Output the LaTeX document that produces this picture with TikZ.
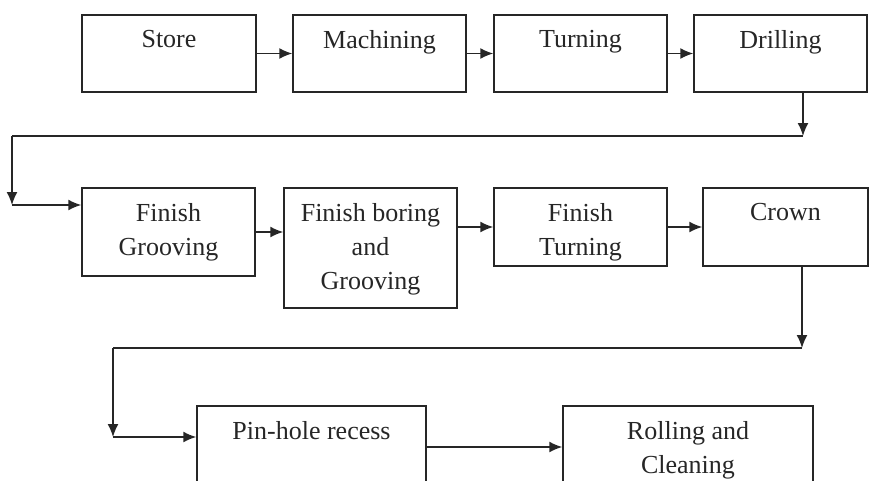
\documentclass[tikz,border=0pt]{standalone}
\usepackage{fontspec}
\setmainfont{Liberation Serif}
\usetikzlibrary{arrows.meta}
\tikzset{
  stage/.style={draw=black!85, line width=1.5pt, inner sep=0pt},
  stagetext/.style={anchor=north, yshift=-16pt, inner sep=0pt, align=center, text=black!85, font=\fontsize{26}{34}\selectfont},
  flow/.style={draw=black!85, line width=1.5pt, -{Latex[length=13pt,width=11pt]}},
  link/.style={draw=black!85, line width=1.5pt}
}
\begin{document}
\begin{tikzpicture}[x=1pt, y=-1pt]
\useasboundingbox (0,0) rectangle (870,480);
\clip (0,0) rectangle (870,480);
\node [stage, minimum width=174pt, minimum height=77pt, label={[stagetext]north:Store}] (store) at (169,53.5) {};
\node [stage, minimum width=173pt, minimum height=77pt, label={[stagetext]north:Machining}] (mach) at (379.5,53.5) {};
\node [stage, minimum width=173pt, minimum height=77pt, label={[stagetext]north:Turning}] (turn) at (580.5,53.5) {};
\node [stage, minimum width=173pt, minimum height=77pt, label={[stagetext]north:Drilling}] (drill) at (780.5,53.5) {};
\node [stage, minimum width=173pt, minimum height=88pt, label={[stagetext]north:{Finish\\Grooving}}] (fgroove) at (168.5,232) {};
\node [stage, minimum width=173pt, minimum height=120pt, label={[stagetext]north:{Finish boring\\and\\Grooving}}] (fbore) at (370.5,248) {};
\node [stage, minimum width=173pt, minimum height=78pt, label={[stagetext]north:{Finish\\Turning}}] (fturn) at (580.5,227) {};
\node [stage, minimum width=165pt, minimum height=78pt, label={[stagetext]north:Crown}] (crown) at (785.5,227) {};
\node [stage, minimum width=229pt, minimum height=100pt, label={[stagetext]north:Pin-hole recess}] (pinhole) at (311.5,456) {};
\node [stage, minimum width=250pt, minimum height=100pt, label={[stagetext]north:{Rolling and\\Cleaning}}] (rolling) at (688,456) {};
\coordinate (d1) at (803,136);
\coordinate (d2) at (12,136);
\coordinate (d3) at (12,205);
\coordinate (c1) at (802,348);
\coordinate (c2) at (113,348);
\coordinate (c3) at (113,437);
\coordinate (pr) at ([yshift=9pt]pinhole.east);
\draw [flow] (store) -- (mach);
\draw [flow] (mach) -- (turn);
\draw [flow] (turn) -- (drill);
\draw [flow] (drill.south -| d1) -- (d1);
\draw [link] (d1) -- (d2);
\draw [flow] (d2) -- (d3);
\draw [flow] (d3) -- (d3 -| fgroove.west);
\draw [flow] (fgroove.east) -- (fgroove.east -| fbore.west);
\draw [flow] (fturn.west -| fbore.east) -- (fturn.west);
\draw [flow] (fturn) -- (crown);
\draw [flow] (crown.south -| c1) -- (c1);
\draw [link] (c1) -- (c2);
\draw [flow] (c2) -- (c3);
\draw [flow] (c3) -- (c3 -| pinhole.west);
\draw [flow] (pr) -- (pr -| rolling.west);
\end{tikzpicture}
\end{document}
